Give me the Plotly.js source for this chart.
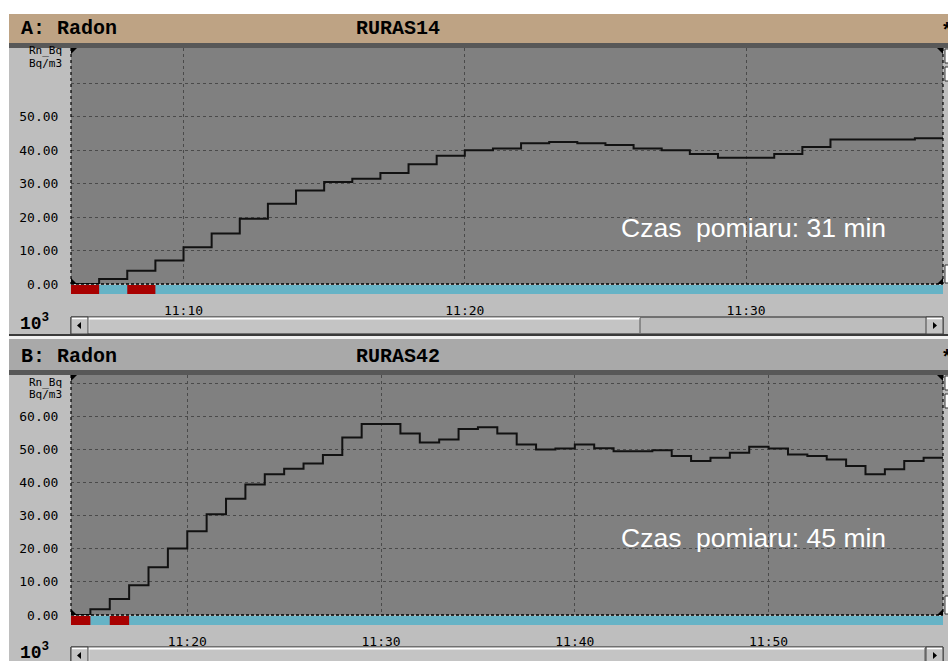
<!DOCTYPE html>
<html><head><meta charset="utf-8">
<script src="https://cdn.plot.ly/plotly-3.0.1.min.js"></script>
<style>html,body{margin:0;padding:0;background:#fff;}#chart{width:948px;height:661px;}</style>
</head><body><div id="chart"></div>
<script>
// ---- data ----
const DAY = '2024-01-01 ';
const stationA = 'RURAS14';
const stationB = 'RURAS42';
const startA = '11:06', endA = '11:37';
const startB = '11:14', endB = '11:59';
const valuesA = [0,1.5,4.0,7.0,11.0,15.1,19.5,24.0,28.0,30.5,31.5,33.2,35.8,38.4,40.0,40.5,42.1,42.5,42.1,41.6,40.5,40.0,38.9,37.8,37.8,38.9,41.0,43.2,43.2,43.2,43.6];
const valuesB = [0,1.7,4.8,9.0,14.4,20.1,25.3,30.4,35.1,39.4,42.5,44.2,45.8,48.3,53.6,57.7,57.7,54.8,52.1,53.0,56.2,56.7,54.8,51.5,50.0,50.3,51.5,50.4,49.5,49.5,49.8,48.0,46.5,47.5,49.0,50.8,50.3,48.5,48.0,47.0,45.0,42.5,44.0,46.5,47.5];
const redA = ['11:06','11:08'];
const redB = ['11:14','11:16'];
const yTicksA = [0,10,20,30,40,50,60];
const yTicksB = [0,10,20,30,40,50,60,70];
const noteA = 'Czas\u00a0 pomiaru: 31 min';
const noteB = 'Czas\u00a0 pomiaru: 45 min';

// ---- helpers ----
function toMin(s){const [h,m]=s.split(':').map(Number);return h*60+m;}
function fmt(t){return DAY+String(Math.floor(t/60)).padStart(2,'0')+':'+String(t%60).padStart(2,'0');}
function times(start,n){const s=toMin(start);return Array.from({length:n},(_,i)=>fmt(s+i));}
const W=948,H=661;
const px=x=>x/W, py=y=>1-y/H;

const xA = times(startA, valuesA.length).concat([DAY+endA]);
const yA = valuesA.concat([valuesA[valuesA.length-1]]);
const xB = times(startB, valuesB.length).concat([DAY+endB]);
const yB = valuesB.concat([valuesB[valuesB.length-1]]);

const traces = [
  {x:xA,y:yA,type:'scatter',mode:'lines',line:{shape:'hv',color:'#111',width:2},xaxis:'x',yaxis:'y',hoverinfo:'skip'},
  {x:xB,y:yB,type:'scatter',mode:'lines',line:{shape:'hv',color:'#111',width:2},xaxis:'x2',yaxis:'y2',hoverinfo:'skip'}
];

const shapes = [];
function rect(x0,y0,x1,y1,fill,line){shapes.push({type:'rect',xref:'paper',yref:'paper',x0:px(x0),x1:px(x1),y0:py(y1),y1:py(y0),fillcolor:fill,line:line||{width:0},layer:'above'});}
function lineP(x0,y0,x1,y1,color,width,dash){shapes.push({type:'line',xref:'paper',yref:'paper',x0:px(x0),x1:px(x1),y0:py(y0),y1:py(y1),line:{color:color,width:width||1,dash:dash||'solid'},layer:'above'});}
function path(pts,fill){shapes.push({type:'path',xref:'paper',yref:'paper',path:'M'+pts.map(p=>px(p[0])+','+py(p[1])).join(' L')+' Z',fillcolor:fill,line:{width:0},layer:'above'});}

// white outer margins
rect(0,0,948,14,'#ffffff');
rect(0,0,9,661,'#ffffff');

function panel(top, titleFill, plotTop, plotBot, xref, start, end, reds, scrollTop, thumbEnd){
  rect(9,top,948,plotTop-5,titleFill);
  rect(9,plotTop-5,948,plotTop,'#585858');
  // status bar
  shapes.push({type:'rect',xref:xref,yref:'paper',x0:DAY+start,x1:DAY+end,y0:py(plotBot+10),y1:py(plotBot+1),fillcolor:'#66b3c6',line:{width:0},layer:'above'});
  reds.forEach(r=>{shapes.push({type:'rect',xref:xref,yref:'paper',x0:DAY+r,x1:fmt(toMin(r)+1),y0:py(plotBot+10),y1:py(plotBot+1),fillcolor:'#a80000',line:{width:0},layer:'above'});});
  // plot borders
  lineP(71,plotTop,71,plotBot,'#000',1.2,'dot');
  lineP(943,plotTop,943,plotBot,'#000',1.2,'dot');
  lineP(71,plotBot,943,plotBot,'#000',1.5,'3px,2px');
  path([[71,plotTop],[77,plotTop],[71,plotTop+6]],'#000');
  path([[943,plotTop],[937,plotTop],[943,plotTop+6]],'#000');
  path([[71,plotBot],[77,plotBot],[71,plotBot-6]],'#000');
  path([[943,plotBot],[937,plotBot],[943,plotBot-6]],'#000');
  // right side small boxes
  rect(945,plotTop+1,949,plotTop+15,'#ffffff',{color:'#333',width:1});
  rect(945,plotTop+19,949,plotTop+33,'#ffffff',{color:'#333',width:1});
  rect(945,plotBot-19,949,plotBot-1,'#ffffff',{color:'#333',width:1});
  // scrollbar
  const st=scrollTop, sb=scrollTop+17;
  rect(71,st,943,sb,'#bdbdbd',{color:'#222',width:1});
  rect(88,st+1,thumbEnd,sb-1,'#c4c4c4',{width:0});
  lineP(88,st+1.5,thumbEnd,st+1.5,'#ffffff',2);
  lineP(88.5,st+1,88.5,sb-1,'#ffffff',1.5);
  lineP(thumbEnd,st+1,thumbEnd,sb-1,'#555',1);
  rect(71,st,88,sb,'#c4c4c4',{color:'#444',width:1});
  lineP(72,st+1.5,87,st+1.5,'#ffffff',1.5);
  path([[77,st+8.5],[81,st+5],[81,st+12]],'#000');
  rect(926,st,943,sb,'#c4c4c4',{color:'#444',width:1});
  lineP(927,st+1.5,942,st+1.5,'#ffffff',1.5);
  path([[937,st+8.5],[933,st+5],[933,st+12]],'#000');
}
panel(14,'#bea384',48,284,'x',startA,endA,redA,317,640);
rect(9,334,948,336,'#3a3a3a');
rect(9,336,948,339,'#f0f0f0');
panel(339,'#a9a9a9',375,615,'x2',startB,endB,redB,647,925);

const monoFont={family:'DejaVu Sans Mono, monospace',size:13,color:'#000'};
const titleFont={family:'Liberation Mono, monospace',size:20,color:'#000',weight:'bold'};
const ann=[];
function A(text,x,y,xanchor,font){ann.push({text:text,xref:'paper',yref:'paper',x:px(x),y:py(y),xanchor:xanchor,yanchor:'middle',showarrow:false,font:font});}
A('A: Radon',19,29,'left',titleFont);
A(stationA,354,29,'left',titleFont);
A('*',939,31,'left',titleFont);
A('B: Radon',19,356,'left',titleFont);
A(stationB,354,356,'left',titleFont);
A('*',939,358,'left',titleFont);
const smallFont={family:'DejaVu Sans Mono, monospace',size:11,color:'#000'};
A('Rn_Bq',64,51,'right',smallFont);
A('Bq/m3',64,63,'right',smallFont);
A('Rn_Bq',64,382,'right',smallFont);
A('Bq/m3',64,394,'right',smallFont);
const expFont={family:'Liberation Mono, monospace',size:18,color:'#000',weight:'bold'};
A('10<sup>3</sup>',18,322,'left',expFont);
A('10<sup>3</sup>',18,651,'left',expFont);
const noteFont={family:'Liberation Sans, Arial, sans-serif',size:26.5,color:'#ffffff'};
A(noteA,619,228,'left',noteFont);
A(noteB,619,538,'left',noteFont);

function xaxisCfg(start,end,anchor){return {type:'date',domain:[px(71),px(943)],range:[DAY+start,DAY+end],anchor:anchor,
  tickformat:'%H:%M',dtick:600000,tick0:DAY+'11:00',showgrid:true,gridcolor:'#4a4a4a',griddash:'dot',gridwidth:1,
  zeroline:false,showline:false,ticks:'outside',ticklen:14,tickcolor:'rgba(0,0,0,0)',tickfont:monoFont,fixedrange:true};}
function yaxisCfg(top,bot,rng,tv,anchor){return {domain:[py(bot),py(top)],range:rng,anchor:anchor,tickvals:tv,
  ticktext:tv.map((v,i)=>i===tv.length-1?'':v.toFixed(2)),showgrid:true,gridcolor:'#4a4a4a',griddash:'dot',gridwidth:1,
  zeroline:false,showline:false,ticks:'outside',ticklen:9,tickcolor:'rgba(0,0,0,0)',tickfont:monoFont,fixedrange:true};}

const layout={width:W,height:H,margin:{l:0,r:0,t:0,b:0},paper_bgcolor:'#bebebe',plot_bgcolor:'#808080',showlegend:false,
  xaxis:xaxisCfg(startA,endA,'y'),yaxis:yaxisCfg(48,284,[0,70.6],yTicksA,'x'),
  xaxis2:xaxisCfg(startB,endB,'y2'),yaxis2:yaxisCfg(375,615,[0,72.5],yTicksB,'x2'),
  shapes:shapes,annotations:ann};
Plotly.newPlot('chart',traces,layout,{displayModeBar:false,staticPlot:true});
</script></body></html>
